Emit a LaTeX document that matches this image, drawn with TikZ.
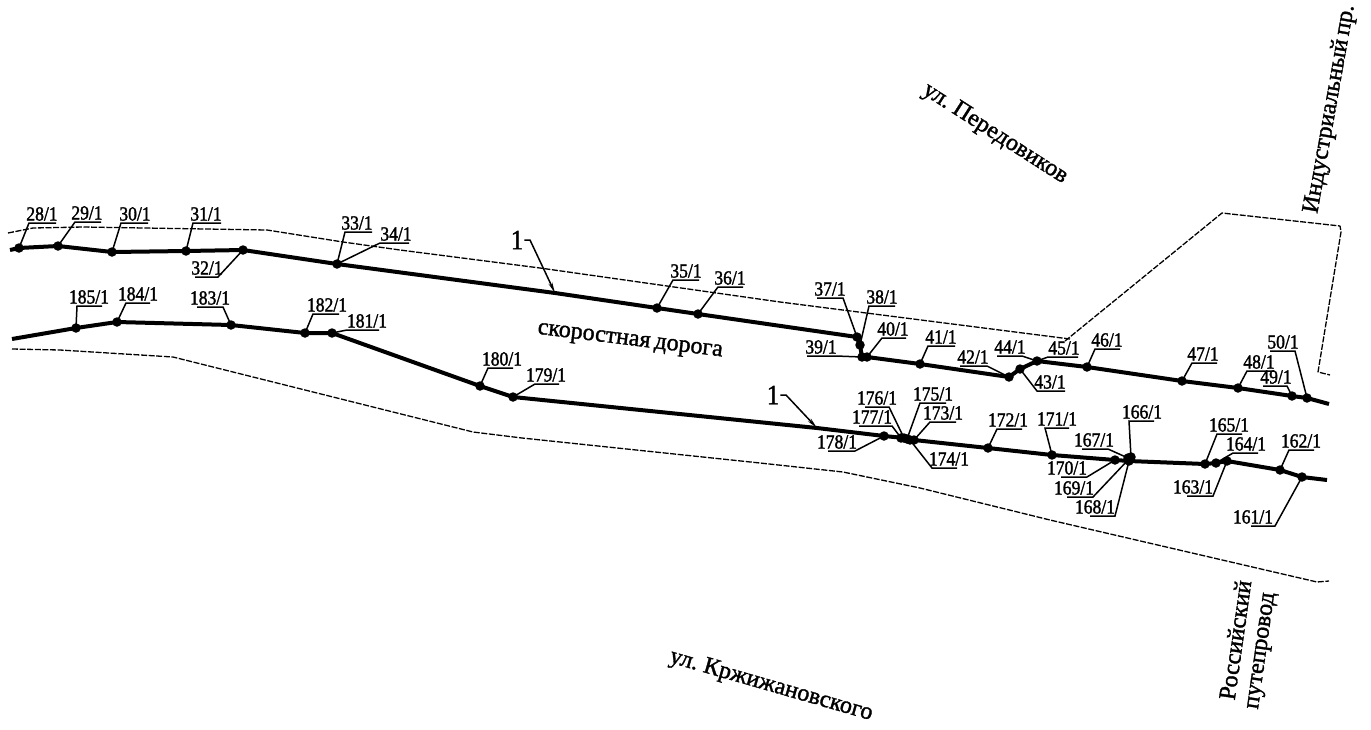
\documentclass[tikz,border=0pt]{standalone}
\usepackage{fontspec}
\setmainfont{Liberation Serif}
\newfontfamily\labfont{Liberation Serif}[FakeBold=1.6,FakeStretch=0.88]
\newfontfamily\strfont{Liberation Serif}[FakeBold=1.4,WordSpace=0.7]
\usetikzlibrary{arrows.meta}
\tikzset{
  road/.style={line width=4pt,line join=round,line cap=butt},
  polept/.style={circle,fill=black,inner sep=0pt,minimum size=9.5pt},
  leader/.style={line width=1.5pt,line join=miter},
  boundary/.style={line width=1.3pt,dash pattern=on 6pt off 1.6pt,line join=round},
  numlab/.style={anchor=base,inner sep=0pt,font=\labfont\fontsize{20}{20}\selectfont},
  streetlab/.style={inner sep=0pt,font=\strfont\fontsize{24}{24}\selectfont},
  refnum/.style={inner sep=0pt,font=\labfont\fontsize{28}{28}\selectfont},
  refline/.style={line width=1.5pt,-{Stealth[length=11pt,width=4pt]}}
}
\newcommand\pole[2]{\node[polept] (p#1) at (#2) {};}
% id, pole, elbow x, elbow/underline y, underline end x, text centre x
\newcommand\lead[6]{%
  \coordinate (e#1) at (#3,#4);
  \coordinate (u#1) at (#5,#4);
  \node[numlab] (t#1) at (#6,#4-2.5) {#1/1};
  \draw[leader] (p#2.center) -- (e#1) -- (u#1);
}
\begin{document}
\begin{tikzpicture}[x=1pt,y=-1pt]
\useasboundingbox (0,0) rectangle (1371,729);
% poles of the upper line
\pole{28}{19,248}\pole{29}{58,246}\pole{30}{112,252}\pole{31}{186,251}\pole{32}{243,250}
\pole{33}{337,264}\pole{35}{657,308}\pole{36}{698,314}
\pole{37}{857,337}\pole{38}{860,345}\pole{39}{862,357}\pole{40}{867,357}
\pole{41}{920,364}\pole{42}{1009,377}\pole{43}{1020,369}\pole{44}{1037,361}
\pole{46}{1087,367}\pole{47}{1182,381}\pole{48}{1238,388}\pole{49}{1292,396}\pole{50}{1307,398}
% poles of the lower line
\pole{185}{76,328}\pole{184}{117,322}\pole{183}{231,325}\pole{182}{305,333}\pole{181}{332,333}
\pole{180}{480,386}\pole{179}{513,397}\pole{178}{884,436}
\pole{177}{901,438}\pole{176}{904,438}\pole{175}{907,439}\pole{174}{910,440}\pole{173}{914,440}
\pole{172}{988,448}\pole{171}{1052,455}\pole{170}{1115,460}
\pole{169}{1128,460}\pole{168}{1129,461}\pole{167}{1128,458}\pole{166}{1131,457}
\pole{165}{1205,464}\pole{164}{1216,463}\pole{163}{1227,461}\pole{162}{1280,470}\pole{161}{1302,477}
% line ends
\coordinate (us) at (10,250);
\coordinate (ue) at (1329,404);
\coordinate (ua) at (555,293);
\coordinate (ls) at (12,339);
\coordinate (le) at (1327,480);
\coordinate (la) at (817,428);
% roads
\draw[road] (us) -- (p28.center) -- (p29.center) -- (p30.center) -- (p31.center) -- (p32.center)
  -- (p33.center) -- (ua) -- (p35.center) -- (p36.center) -- (p37.center) -- (p38.center)
  -- (p39.center) -- (p40.center) -- (p41.center) -- (p42.center) -- (p43.center) -- (p44.center)
  -- (p46.center) -- (p47.center) -- (p48.center) -- (p49.center) -- (p50.center) -- (ue);
\draw[road] (ls) -- (p185.center) -- (p184.center) -- (p183.center) -- (p182.center) -- (p181.center)
  -- (p180.center) -- (p179.center) -- (la) -- (p178.center) -- (p176.center) -- (p173.center)
  -- (p172.center) -- (p171.center) -- (p170.center) -- (p168.center) -- (p165.center)
  -- (p164.center) -- (p163.center) -- (p162.center) -- (p161.center) -- (le);
% boundary lines
\draw[boundary] (8,233) -- (33,228) -- (83,227) -- (267,230) -- (343,242) -- (400,250) -- (540,268)
  -- (780,302) -- (1070,339);
\draw[boundary] (1065,341) -- (1222,213) -- (1340,226) -- (1341,232) -- (1318,372) -- (1330,375);
\draw[boundary] (12,349) -- (60,350) -- (173,357) -- (473,432) -- (522,438) -- (760,463) -- (843,472)
  -- (920,488) -- (1050,520) -- (1317,582) -- (1329,581);
% leaders, upper line
\lead{28}{28}{29}{223}{56}{42}
\lead{29}{29}{75}{222}{101}{87}
\lead{30}{30}{121}{223}{148}{135}
\lead{31}{31}{193}{223}{221}{206}
\lead{32}{32}{218}{277}{195}{207}
\lead{33}{33}{345}{232}{372}{357}
\lead{34}{33}{380}{243}{409}{396}
\lead{35}{35}{673}{280}{699}{686}
\lead{36}{36}{718}{287}{743}{730}
\lead{37}{37}{843}{298}{817}{830}
\lead{38}{38}{869}{306}{895}{882}
\lead{39}{39}{836}{356}{807}{821}
\lead{40}{40}{882}{338}{906}{893}
\lead{41}{41}{928}{346}{955}{941}
\lead{42}{42}{987}{366}{960}{973}
\lead{43}{43}{1037}{391}{1065}{1050}
\lead{44}{44}{1022}{356}{997}{1010}
\lead{45}{44}{1048}{357}{1078}{1064}
\lead{46}{46}{1095}{349}{1120}{1107}
\lead{47}{47}{1192}{363}{1217}{1203}
\lead{48}{48}{1247}{371}{1274}{1259}
\lead{49}{49}{1287}{386}{1263}{1276}
\lead{50}{50}{1295}{351}{1270}{1283}
% leaders, lower line
\lead{185}{185}{77}{306}{102}{89}
\lead{184}{184}{126}{303}{150}{138}
\lead{183}{183}{223}{307}{197}{210}
\lead{182}{182}{313}{314}{339}{327}
\lead{181}{181}{347}{330}{379}{367}
\lead{180}{180}{488}{368}{513}{502}
\lead{179}{179}{535}{384}{559}{546}
\lead{178}{178}{855}{451}{828}{837}
\lead{177}{177}{892}{426}{859}{872}
\lead{176}{176}{889}{407}{865}{877}
\lead{175}{175}{920}{403}{946}{933}
\lead{174}{174}{932}{468}{957}{949}
\lead{173}{173}{930}{422}{956}{943}
\lead{172}{172}{997}{429}{1022}{1008}
\lead{171}{171}{1045}{428}{1069}{1057}
\lead{170}{170}{1087}{477}{1061}{1067}
\lead{169}{169}{1093}{497}{1067}{1074}
\lead{168}{168}{1115}{516}{1090}{1095}
\lead{167}{167}{1108}{449}{1082}{1094}
\lead{166}{166}{1129}{421}{1154}{1142}
\lead{165}{165}{1217}{434}{1242}{1229}
\lead{164}{164}{1233}{453}{1258}{1246}
\lead{163}{163}{1213}{496}{1187}{1193}
\lead{162}{162}{1289}{450}{1314}{1301}
\lead{161}{161}{1275}{526}{1251}{1253}
% reference numerals
\node[refnum] (r1) at (517,240) {1};
\coordinate (r1a) at (530,240);
\draw[refline] (r1.east) ++(1,0) -- (r1a) -- (ua);
\node[refnum] (r2) at (773,395) {1};
\coordinate (r2a) at (786,395);
\draw[refline] (r2.east) ++(1,0) -- (r2a) -- (la);
% street names
\node[streetlab,rotate=-32.6] (s1) at (995,134) {ул. Передовиков};
\node[streetlab,rotate=80] (s2) at (1330,109) {Индустриальный пр.};
\node[streetlab,rotate=-7] (s3) at (630,342) {скоростная дорога};
\node[streetlab,rotate=-16] (s4) at (771,686) {ул. Кржижановского};
\node[streetlab,rotate=82] (s5) at (1235,640) {Российский};
\node[streetlab,rotate=82] (s6) at (1263,651) {путепровод};
\end{tikzpicture}
\end{document}
